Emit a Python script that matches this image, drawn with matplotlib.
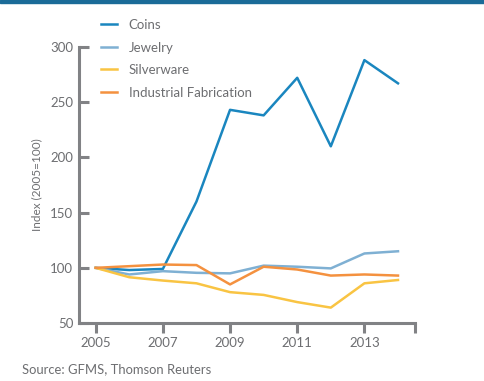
import matplotlib.pyplot as plt
from matplotlib.patches import Rectangle

years = [2005, 2006, 2007, 2008, 2009, 2010, 2011, 2012, 2013, 2014]
coins = [100, 98, 99, 160, 243, 238, 272, 210, 288, 267]
jewelry = [100, 94, 97, 95.5, 95, 102, 101, 99.5, 113, 115]
silverware = [100, 91.5, 88.5, 86, 78, 75.5, 69, 64, 86, 89]
industrial = [100, 101.5, 103, 102.5, 85, 101, 98.5, 93, 94, 93]

series = [
    ("Coins", coins, "#1a86bf"),
    ("Jewelry", jewelry, "#7fb0d3"),
    ("Silverware", silverware, "#f9c443"),
    ("Industrial Fabrication", industrial, "#f4913f"),
]

grey = "#6d6e71"
axis_grey = "#818285"
plt.rcParams['font.family'] = ['Lato', 'DejaVu Sans']

fig = plt.figure(figsize=(4.84, 3.81), dpi=100)
fig.patches.append(Rectangle((0, 0.992), 1, 0.008, transform=fig.transFigure,
                             color="#1b6b98", zorder=0))
ax = fig.add_axes([0.163, 0.152, 0.694, 0.725])

for name, vals, col in series:
    ax.plot(years, vals, color=col, lw=1.8, label=name)

ax.set_xlim(2004.5, 2014.5)
ax.set_ylim(50, 300)
ax.set_yticks([50, 100, 150, 200, 250, 300])
ax.set_xticks([2005, 2007, 2009, 2011, 2013, 2014.5])
ax.set_xticklabels(["2005", "2007", "2009", "2011", "2013", ""])

for s in ["top", "right"]:
    ax.spines[s].set_visible(False)
for s in ["left", "bottom"]:
    ax.spines[s].set_color(axis_grey)
    ax.spines[s].set_linewidth(2.2)
ax.tick_params(axis="y", direction="in", length=7, width=2.2, color=axis_grey,
               labelcolor=grey, labelsize=9.5, pad=4)
ax.tick_params(axis="x", direction="out", length=7, width=2.2, color=axis_grey,
               labelcolor=grey, labelsize=9.5, pad=3)

ax.set_ylabel("Index (2005=100)", color=grey, fontsize=8.5, labelpad=6)

leg = ax.legend(loc="upper left", bbox_to_anchor=(0.05, 1.12), frameon=False,
                fontsize=9.5, handlelength=1.2, labelspacing=0.8, handletextpad=0.9,
                borderaxespad=0)
for t in leg.get_texts():
    t.set_color(grey)

fig.text(0.045, 0.02, "Source: GFMS, Thomson Reuters", color=grey, fontsize=9.4)

fig.savefig("out.png", dpi=100)
